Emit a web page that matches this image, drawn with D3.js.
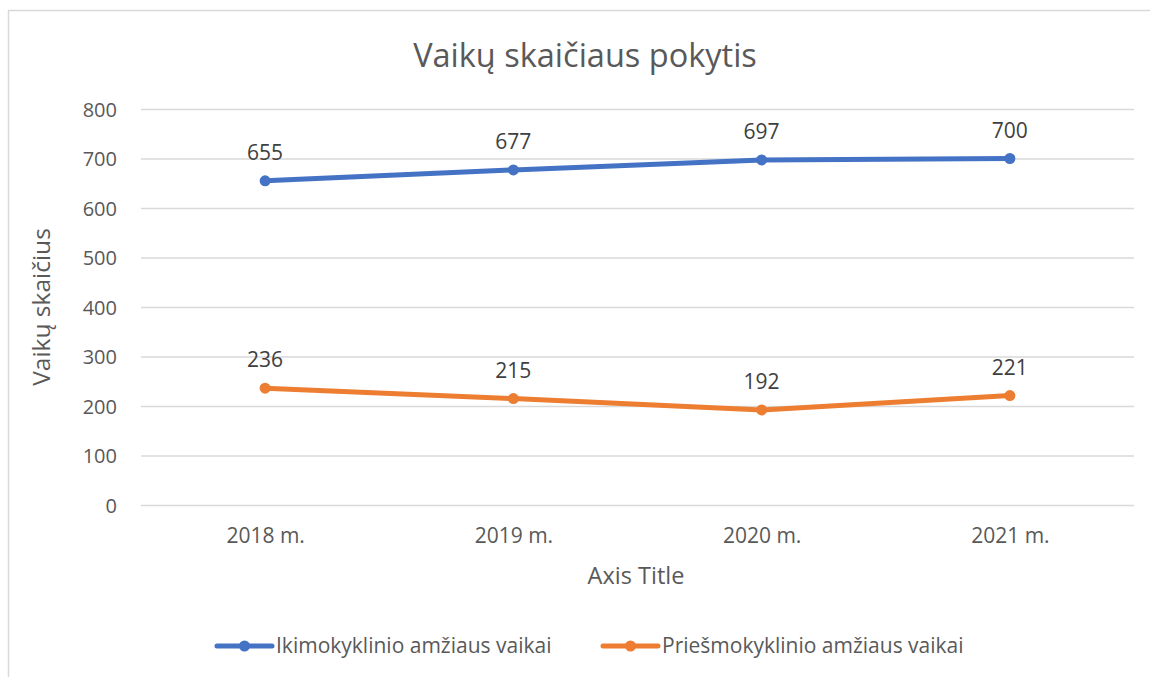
<!DOCTYPE html>
<html>
<head>
<meta charset="utf-8">
<script src="https://cdn.jsdelivr.net/npm/d3@7"></script>
<style>
  body{margin:0;background:#fff;}
  text{font-family:"Open Sans",sans-serif;fill:#595959;}
</style>
</head>
<body>
<div id="chart"></div>
<script>
var years=['2018 m.','2019 m.','2020 m.','2021 m.'];
var ikimokyklinio=[655,677,697,700];
var priesmokyklinio=[236,215,192,221];
var seriesNames=['Ikimokyklinio amžiaus vaikai','Priešmokyklinio amžiaus vaikai'];
var seriesColors=['#4472c4','#ed7d31'];
var yTicks=[0,100,200,300,400,500,600,700,800];

var width=1150,height=677;
var margin={left:141,right:16,top:109,bottom:172};

var svg=d3.select('#chart').append('svg')
  .attr('width',width)
  .attr('height',height);

// chart frame
svg.append('rect')
  .attr('x',8.5).attr('y',10.5)
  .attr('width',1160).attr('height',700)
  .attr('fill','#fff')
  .attr('stroke','#d9d9d9')
  .attr('stroke-width',1.5);

var x=d3.scalePoint()
  .domain(years)
  .range([margin.left,width-margin.right])
  .padding(0.5);

var y=d3.scaleLinear()
  .domain([0,800])
  .range([height-margin.bottom,margin.top]);

// gridlines
svg.append('g')
  .selectAll('line')
  .data(yTicks)
  .enter()
  .append('line')
  .attr('x1',margin.left)
  .attr('x2',width-margin.right)
  .attr('y1',d=>y(d)+0.5)
  .attr('y2',d=>y(d)+0.5)
  .attr('stroke','#d9d9d9')
  .attr('stroke-width',1.5);

// y axis labels
var yAxis=svg.append('g')
  .attr('transform','translate('+margin.left+',0)')
  .call(d3.axisLeft(y).tickValues(yTicks).tickSize(0).tickPadding(24));
yAxis.select('.domain').remove();
yAxis.selectAll('text')
  .attr('font-size',20)
  .attr('font-family','"Open Sans",sans-serif')
  .attr('fill','#595959')
  .attr('dy','0.35em');

// x axis labels
var xAxis=svg.append('g')
  .attr('transform','translate(0,'+(height-margin.bottom)+')')
  .call(d3.axisBottom(x).tickSize(0).tickPadding(23));
xAxis.select('.domain').remove();
xAxis.selectAll('text')
  .attr('font-size',21)
  .attr('font-family','"Open Sans",sans-serif')
  .attr('fill','#595959');

// titles
svg.append('text')
  .attr('x',585)
  .attr('y',67)
  .attr('text-anchor','middle')
  .attr('font-size',32.5)
  .text('Vaikų skaičiaus pokytis');

svg.append('text')
  .attr('x',636)
  .attr('y',584)
  .attr('text-anchor','middle')
  .attr('font-size',23.5)
  .text('Axis Title');

svg.append('text')
  .attr('transform','translate(50,307) rotate(-90)')
  .attr('text-anchor','middle')
  .attr('font-size',24.5)
  .text('Vaikų skaičius');

// lines
var allSeries=[ikimokyklinio,priesmokyklinio];
var line=d3.line()
  .x((d,i)=>x(years[i]))
  .y(d=>y(d));

allSeries.forEach(function(values,s){
  svg.append('path')
    .datum(values)
    .attr('d',line)
    .attr('fill','none')
    .attr('stroke',seriesColors[s])
    .attr('stroke-width',5)
    .attr('stroke-linecap','round');
  svg.append('g')
    .selectAll('circle')
    .data(values)
    .enter()
    .append('circle')
    .attr('cx',(d,i)=>x(years[i]))
    .attr('cy',d=>y(d))
    .attr('r',5.5)
    .attr('fill',seriesColors[s]);
  svg.append('g')
    .selectAll('text')
    .data(values)
    .enter()
    .append('text')
    .attr('x',(d,i)=>x(years[i]))
    .attr('y',d=>y(d)-21)
    .attr('text-anchor','middle')
    .attr('font-size',21)
    .style('fill','#404040')
    .text(d=>d);
});

// legend
var legendX=[217,603];
var legend=svg.append('g');
seriesNames.forEach(function(name,s){
  var g=legend.append('g')
    .attr('transform','translate('+legendX[s]+',646)');
  g.append('line')
    .attr('x1',0).attr('x2',55)
    .attr('stroke',seriesColors[s])
    .attr('stroke-width',5)
    .attr('stroke-linecap','round');
  g.append('circle')
    .attr('cx',27.5).attr('r',5.5)
    .attr('fill',seriesColors[s]);
  g.append('text')
    .attr('x',59)
    .attr('dy','0.35em')
    .attr('font-size',21)
    .text(name);
});
</script>
</body>
</html>
